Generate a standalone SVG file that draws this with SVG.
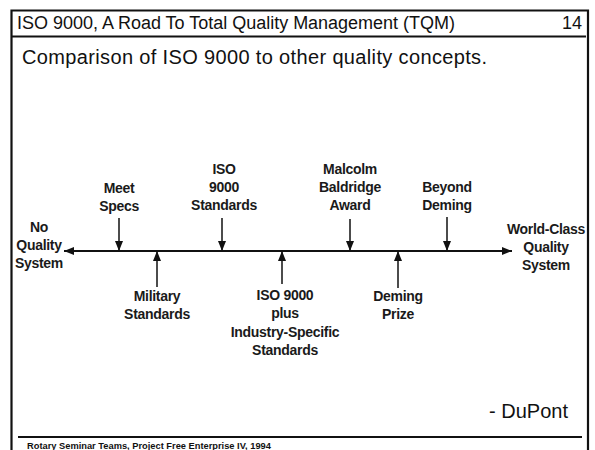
<svg xmlns="http://www.w3.org/2000/svg" width="595" height="450" viewBox="0 0 595 450">
  <defs>
    <marker id="head" viewBox="0 0 10 8" refX="10" refY="4" markerWidth="10" markerHeight="8" markerUnits="userSpaceOnUse" orient="auto">
      <path d="M0,0 L10,4 L0,8 Z" fill="#111"/>
    </marker>
    <style>
      .frame { fill: none; stroke: #111; stroke-width: 2.2; }
      .rule { stroke: #111; stroke-width: 2; }
      .title { font-family: "Liberation Sans", Arial, sans-serif; font-size: 18px; fill: #111; }
      .sub { font-family: "Liberation Sans", Arial, sans-serif; font-size: 20px; fill: #111; }
      .lbl { font-family: "Liberation Sans", Arial, sans-serif; font-size: 14px; font-weight: bold; fill: #1a1a1a; text-anchor: middle; letter-spacing: -0.3px; }
      .foot { font-family: "Liberation Sans", Arial, sans-serif; font-size: 9.3px; font-weight: bold; fill: #111; }
      .axis { stroke: #111; stroke-width: 1.8; fill: none; }
      .ptr { stroke: #111; stroke-width: 1.5; fill: none; marker-end: url(#head); }
    </style>
  </defs>
  <rect width="595" height="450" fill="#fff"/>

  <!-- page frame and rules -->
  <path class="frame" d="M11.5,452 V10.5 H588 V452"/>
  <line class="rule" x1="12" y1="36.5" x2="586" y2="36.5"/>
  <line class="rule" x1="18" y1="437" x2="582" y2="437"/>

  <text class="title" x="17" y="29" textLength="438">ISO 9000, A Road To Total Quality Management (TQM)</text>
  <text class="title" x="582" y="29" text-anchor="end">14</text>
  <text class="sub" x="22" y="64" textLength="465">Comparison of ISO 9000 to other quality concepts.</text>

  <!-- timeline connectors -->
  <g id="connectors">
    <line class="axis" x1="285" y1="251" x2="64" y2="251" marker-end="url(#head)"/>
    <line class="axis" x1="285" y1="251" x2="512" y2="251" marker-end="url(#head)"/>
    <line class="ptr" x1="119" y1="218" x2="119" y2="251"/>
    <line class="ptr" x1="222" y1="218" x2="222" y2="251"/>
    <line class="ptr" x1="350" y1="219" x2="350" y2="251"/>
    <line class="ptr" x1="447" y1="217" x2="447" y2="251"/>
    <line class="ptr" x1="157" y1="287" x2="157" y2="251"/>
    <line class="ptr" x1="282" y1="284" x2="282" y2="251"/>
    <line class="ptr" x1="398" y1="288" x2="398" y2="251"/>
  </g>

  <g id="no-quality">
    <text class="lbl" x="39" y="232">No</text>
    <text class="lbl" x="39" y="250">Quality</text>
    <text class="lbl" x="39" y="268">System</text>
  </g>
  <g id="meet-specs">
    <text class="lbl" x="119" y="193">Meet</text>
    <text class="lbl" x="119" y="211">Specs</text>
  </g>
  <g id="iso-9000">
    <text class="lbl" x="224" y="174">ISO</text>
    <text class="lbl" x="224" y="192">9000</text>
    <text class="lbl" x="224" y="210">Standards</text>
  </g>
  <g id="baldrige">
    <text class="lbl" x="350" y="174">Malcolm</text>
    <text class="lbl" x="350" y="192">Baldridge</text>
    <text class="lbl" x="350" y="210">Award</text>
  </g>
  <g id="beyond-deming">
    <text class="lbl" x="447" y="192">Beyond</text>
    <text class="lbl" x="447" y="210">Deming</text>
  </g>
  <g id="world-class">
    <text class="lbl" x="546" y="234">World-Class</text>
    <text class="lbl" x="546" y="252">Quality</text>
    <text class="lbl" x="546" y="270">System</text>
  </g>
  <g id="military">
    <text class="lbl" x="157" y="301">Military</text>
    <text class="lbl" x="157" y="319">Standards</text>
  </g>
  <g id="iso-plus">
    <text class="lbl" x="285" y="300">ISO 9000</text>
    <text class="lbl" x="285" y="318">plus</text>
    <text class="lbl" x="285" y="337">Industry-Specific</text>
    <text class="lbl" x="285" y="355">Standards</text>
  </g>
  <g id="deming-prize">
    <text class="lbl" x="398" y="301">Deming</text>
    <text class="lbl" x="398" y="319">Prize</text>
  </g>

  <text class="sub" x="568" y="418" text-anchor="end">- DuPont</text>
  <text class="foot" x="27" y="449">Rotary Seminar Teams, Project Free Enterprise IV, 1994</text>
</svg>
